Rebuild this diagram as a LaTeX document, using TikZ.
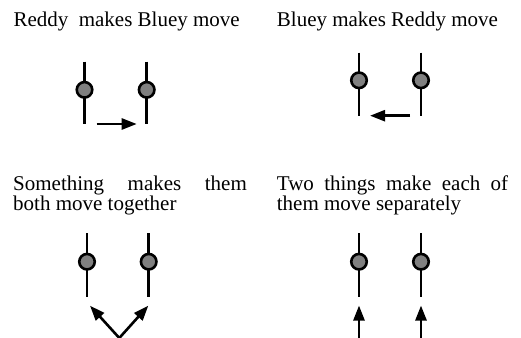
\documentclass[tikz,border=0pt]{standalone}
\usepackage{fontspec}
\setmainfont{Liberation Serif}
\usetikzlibrary{arrows.meta}

\newlength{\du}
\setlength{\du}{1pt}
\definecolor{beadcolor}{rgb}{0.500000, 0.500000, 0.500000}
\tikzset{
  stick/.style={line width=2.6\du},
  bead/.style={circle, draw, fill=beadcolor, line width=2.6\du, minimum size=15.5\du, inner sep=0pt},
  push/.style={line width=2.6\du, -{Triangle[length=15pt,width=11pt]}},
  caption/.style={anchor=base west, inner sep=0pt, font=\fontsize{21}{19}\selectfont}
}

\begin{document}
\begin{tikzpicture}
\pgftransformxscale{1.000000}
\pgftransformyscale{-1.000000}
\useasboundingbox (0\du,0\du) rectangle (521\du,337\du);
% Reddy makes Bluey move
\node[caption] (capa) at (13.300000\du,26.700000\du){Reddy\ \ makes Bluey move};
\coordinate (atopl) at (84.500000\du,61.700000\du);
\coordinate (abotl) at (84.500000\du,124.300000\du);
\coordinate (atopr) at (146.700000\du,61.700000\du);
\coordinate (abotr) at (146.700000\du,124.300000\du);
\draw[stick] (atopl)--(abotl);
\draw[stick] (atopr)--(abotr);
\node[bead] (areddy) at (84.500000\du,89.800000\du){};
\node[bead] (abluey) at (146.700000\du,89.800000\du){};
\coordinate (afrom) at (96.700000\du,124.000000\du);
\coordinate (ato) at (136.700000\du,124.000000\du);
\draw[push] (afrom)--(ato);
% Bluey makes Reddy move
\node[caption] (capb) at (276.700000\du,26.700000\du){Bluey makes Reddy move};
\coordinate (btopl) at (359.000000\du,52.500000\du);
\coordinate (bbotl) at (359.000000\du,116.000000\du);
\coordinate (btopr) at (421.000000\du,52.500000\du);
\coordinate (bbotr) at (421.000000\du,116.000000\du);
\draw[stick] (btopl)--(bbotl);
\draw[stick] (btopr)--(bbotr);
\node[bead] (breddy) at (359.000000\du,80.300000\du){};
\node[bead] (bbluey) at (421.000000\du,80.300000\du){};
\coordinate (bfrom) at (410.000000\du,115.700000\du);
\coordinate (bto) at (370.000000\du,115.700000\du);
\draw[push] (bfrom)--(bto);
% Something makes them both move together
\node[caption] (capc) at (13.000000\du,190.500000\du){\makebox[233.700000\du][s]{Something makes them}};
\node[caption] (capcc) at (13.000000\du,210.000000\du){both move together};
\coordinate (ctopl) at (87.000000\du,233.000000\du);
\coordinate (cbotl) at (87.000000\du,297.000000\du);
\coordinate (ctopr) at (148.700000\du,233.000000\du);
\coordinate (cbotr) at (148.700000\du,297.000000\du);
\draw[stick] (ctopl)--(cbotl);
\draw[stick] (ctopr)--(cbotr);
\node[bead] (creddy) at (87.000000\du,261.700000\du){};
\node[bead] (cbluey) at (148.700000\du,261.700000\du){};
\coordinate (capex) at (119.300000\du,338.000000\du);
\coordinate (ctol) at (90.000000\du,305.700000\du);
\coordinate (ctor) at (148.300000\du,305.700000\du);
\draw[push] (capex)--(ctol);
\draw[push] (capex)--(ctor);
% Two things make each of them move separately
\node[caption] (capd) at (276.700000\du,190.500000\du){\makebox[231.300000\du][s]{Two things make each of}};
\node[caption] (capdd) at (276.700000\du,210.000000\du){them move separately};
\coordinate (dtopl) at (359.000000\du,233.000000\du);
\coordinate (dbotl) at (359.000000\du,297.000000\du);
\coordinate (dtopr) at (421.000000\du,233.000000\du);
\coordinate (dbotr) at (421.000000\du,297.000000\du);
\draw[stick] (dtopl)--(dbotl);
\draw[stick] (dtopr)--(dbotr);
\node[bead] (dreddy) at (359.000000\du,261.700000\du){};
\node[bead] (dbluey) at (421.000000\du,261.700000\du){};
\coordinate (dfroml) at (359.000000\du,338.000000\du);
\coordinate (dtol) at (359.000000\du,305.500000\du);
\coordinate (dfromr) at (421.000000\du,338.000000\du);
\coordinate (dtor) at (421.000000\du,305.500000\du);
\draw[push] (dfroml)--(dtol);
\draw[push] (dfromr)--(dtor);
\end{tikzpicture}
\end{document}
